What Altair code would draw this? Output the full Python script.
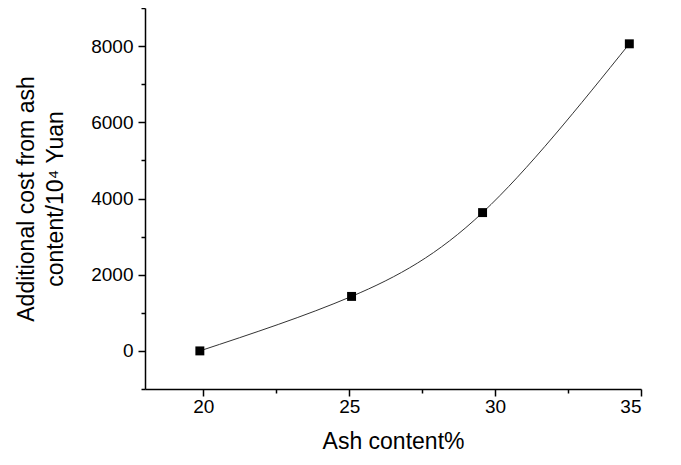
import altair as alt
import pandas as pd

ash = [19.88, 25.08, 29.57, 34.6]
cost = [0, 1430, 3630, 8060]
x_ticks = [20, 22.5, 25, 27.5, 30, 32.5, 35]
y_ticks = [-1000, 0, 1000, 2000, 3000, 4000, 5000, 6000, 7000, 8000, 9000]

df = pd.DataFrame({"ash": ash, "cost": cost})

FONT = "Liberation Sans"

x_enc = alt.X(
    "ash:Q",
    scale=alt.Scale(domain=[18, 35], nice=False, zero=False),
    axis=alt.Axis(
        values=x_ticks,
        title="Ash content%",
        format="d",
        labelExpr="datum.value % 5 === 0 ? datum.label : ''",
        tickSize={"condition": {"test": "datum.value % 5 === 0", "value": 7}, "value": 4},
        labelPadding=1,
        titlePadding=14,
        grid=False,
    ),
)
y_enc = alt.Y(
    "cost:Q",
    scale=alt.Scale(domain=[-1000, 9000], nice=False, zero=False),
    axis=alt.Axis(
        values=y_ticks,
        title=["Additional cost from ash", "content/10\u2074 Yuan"],
        format="d",
        labelExpr="datum.value % 2000 === 0 ? datum.label : ''",
        tickSize={"condition": {"test": "datum.value % 2000 === 0", "value": 7}, "value": 4},
        labelPadding=5,
        titlePadding=23,
        grid=False,
    ),
)

line = alt.Chart(df).mark_line(interpolate="natural", color="#333333", strokeWidth=1).encode(x=x_enc, y=y_enc)
pts = alt.Chart(df).mark_square(size=80, color="black", opacity=1).encode(x=x_enc, y=y_enc)

chart = (
    alt.layer(line, pts)
    .properties(
        width=496,
        height=381,
        autosize=alt.AutoSizeParams(type="none"),
        padding={"left": 137, "top": 0, "right": 30, "bottom": 70},
    )
    .configure_view(stroke=None)
    .configure_axis(
        domainColor="black",
        domainWidth=1.5,
        tickColor="black",
        tickWidth=1.5,
        labelColor="black",
        labelFont=FONT,
        labelFontSize=19,
        titleFont=FONT,
        titleFontSize=23,
        titleFontWeight="normal",
        titleColor="black",
        titleLineHeight=29,
    )
)

chart.save("out.html", embed_options={"renderer": "svg", "actions": False})
